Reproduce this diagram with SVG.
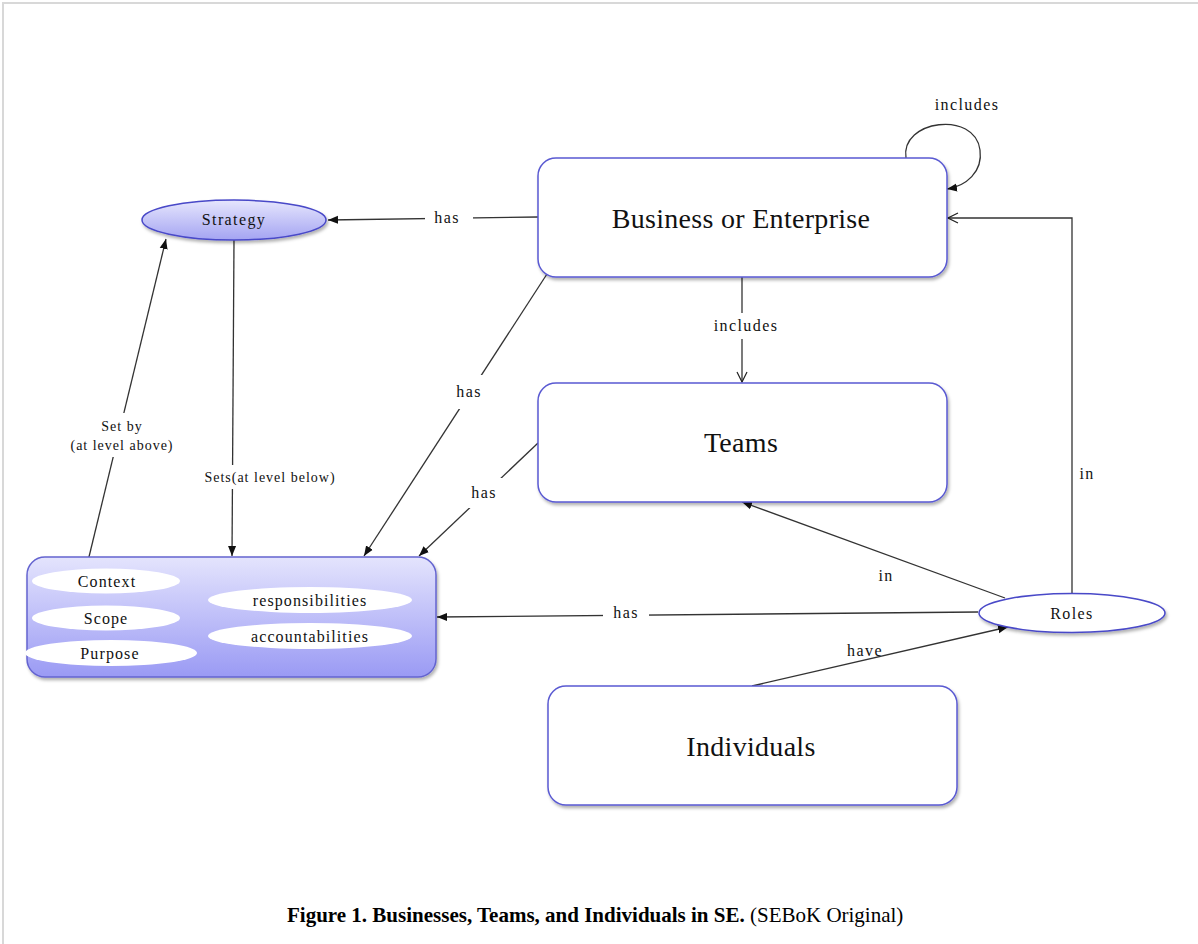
<svg xmlns="http://www.w3.org/2000/svg" width="1198" height="944" viewBox="0 0 1198 944">
<defs>
<linearGradient id="gBox" x1="0" y1="0" x2="0" y2="1"><stop offset="0" stop-color="#e4e4fd"/><stop offset="1" stop-color="#9a9af4"/></linearGradient>
<linearGradient id="gStr" x1="0" y1="0" x2="0" y2="1"><stop offset="0" stop-color="#e6e6fd"/><stop offset="1" stop-color="#a4a4f2"/></linearGradient>
<filter id="sh" x="-10%" y="-10%" width="120%" height="130%"><feDropShadow dx="1.5" dy="2.5" stdDeviation="1.8" flood-color="#000" flood-opacity="0.3"/></filter>
<marker id="af" viewBox="0 0 10 10" refX="10" refY="5" markerWidth="10" markerHeight="10" markerUnits="userSpaceOnUse" orient="auto"><path d="M0,1 L10,5 L0,9 z" fill="#111"/></marker>
<marker id="ao" viewBox="0 0 12 12" refX="11" refY="6" markerWidth="12" markerHeight="12" markerUnits="userSpaceOnUse" orient="auto"><path d="M1,1 L11,6 L1,11" fill="none" stroke="#222" stroke-width="1.2"/></marker>
</defs>
<style>
.bx{fill:#fff;stroke:#5a5ad2;stroke-width:1.5}
.big{font-family:"Liberation Serif",serif;font-size:28px;letter-spacing:0.3px;fill:#111;text-anchor:middle}
.lb{font-family:"Liberation Serif",serif;font-size:16px;letter-spacing:1.4px;fill:#111;text-anchor:middle}
.sm{font-family:"Liberation Serif",serif;font-size:14px;letter-spacing:1px;fill:#111;text-anchor:middle}
.in{font-family:"Liberation Serif",serif;font-size:16px;letter-spacing:1.1px;fill:#111;text-anchor:middle}
.ln{fill:none;stroke:#333;stroke-width:1.3}
.wh{fill:#fff}
.ie{fill:#fff}
.cap{font-family:"Liberation Serif",serif;font-size:21px;fill:#000}
</style>
<rect x="0" y="0" width="1198" height="944" fill="#fff"/>
<path d="M3,944 L3,3 L1198,3" fill="none" stroke="#d8d8d8" stroke-width="2"/>

<g id="connectors">
<path class="ln" d="M538,217 L328,220" marker-end="url(#af)"/>
<path class="ln" d="M234,240 L232,556" marker-end="url(#af)"/>
<path class="ln" d="M88,561 L166,239" marker-end="url(#af)"/>
<path class="ln" d="M547,274 L364,556" marker-end="url(#af)"/>
<path class="ln" d="M538,443 L419,556" marker-end="url(#af)"/>
<path class="ln" d="M742,277 L742,382" marker-end="url(#ao)"/>
<path class="ln" d="M906,158 C900,120 975,110 980,150 C983,172 966,186 947,189" marker-end="url(#af)"/>
<path class="ln" d="M1072,594 L1072,218 L948,218" marker-end="url(#ao)"/>
<path class="ln" d="M1005,598 L742,502" marker-end="url(#af)"/>
<path class="ln" d="M978,612 L437,617" marker-end="url(#af)"/>
<path class="ln" d="M752,686 L1008,627" marker-end="url(#af)"/>
<rect class="wh" x="425" y="208" width="48" height="20"/>
<rect class="wh" x="200" y="465" width="140" height="24"/>
<rect class="wh" x="66" y="413" width="114" height="44"/>
<rect class="wh" x="450" y="375" width="38" height="34"/>
<rect class="wh" x="465" y="478" width="38" height="30"/>
<rect class="wh" x="708" y="313" width="76" height="26"/>
<rect class="wh" x="603" y="600" width="46" height="24"/>
<text class="lb" x="447" y="223">has</text>
<text class="sm" x="270" y="482">Sets(at level below)</text>
<text class="sm" x="122" y="431">Set by</text>
<text class="sm" x="122" y="450">(at level above)</text>
<text class="lb" x="469" y="397">has</text>
<text class="lb" x="484" y="498">has</text>
<text class="lb" x="746" y="331">includes</text>
<text class="lb" x="967" y="110">includes</text>
<text class="lb" x="1087" y="479">in</text>
<text class="lb" x="886" y="581">in</text>
<text class="lb" x="626" y="618">has</text>
<text class="lb" x="865" y="656">have</text>
</g>

<g id="business">
<rect class="bx" x="538" y="158" width="409" height="119" rx="18" filter="url(#sh)"/>
<text class="big" x="741" y="228">Business or Enterprise</text>
</g>
<g id="teams">
<rect class="bx" x="538" y="383" width="409" height="119" rx="18" filter="url(#sh)"/>
<text class="big" x="741" y="452">Teams</text>
</g>
<g id="individuals">
<rect class="bx" x="548" y="686" width="409" height="119" rx="18" filter="url(#sh)"/>
<text class="big" x="751" y="756">Individuals</text>
</g>
<g id="strategy">
<ellipse cx="234" cy="220" rx="92" ry="20" fill="url(#gStr)" stroke="#4848c8" stroke-width="1.5" filter="url(#sh)"/>
<text class="lb" x="234" y="225">Strategy</text>
</g>
<g id="roles">
<ellipse cx="1072" cy="613" rx="93" ry="19.5" fill="#fff" stroke="#4848c8" stroke-width="1.5" filter="url(#sh)"/>
<text class="lb" x="1072" y="619">Roles</text>
</g>
<g id="attributes">
<rect x="27" y="557" width="409" height="120" rx="18" fill="url(#gBox)" stroke="#6464d0" stroke-width="1.5" filter="url(#sh)"/>
<ellipse class="ie" cx="106" cy="581" rx="74" ry="12.5"/>
<ellipse class="ie" cx="106" cy="618" rx="74" ry="12.5"/>
<ellipse class="ie" cx="111" cy="653" rx="86" ry="13"/>
<ellipse class="ie" cx="310" cy="600" rx="102" ry="13"/>
<ellipse class="ie" cx="310" cy="636" rx="102" ry="13"/>
<text class="in" x="107" y="587">Context</text>
<text class="in" x="106" y="624">Scope</text>
<text class="in" x="110" y="659">Purpose</text>
<text class="in" x="310" y="606">responsibilities</text>
<text class="in" x="310" y="642">accountabilities</text>
</g>
<text class="cap" x="287" y="922"><tspan font-weight="bold">Figure 1. Businesses, Teams, and Individuals in SE.</tspan> (SEBoK Original)</text>
</svg>
